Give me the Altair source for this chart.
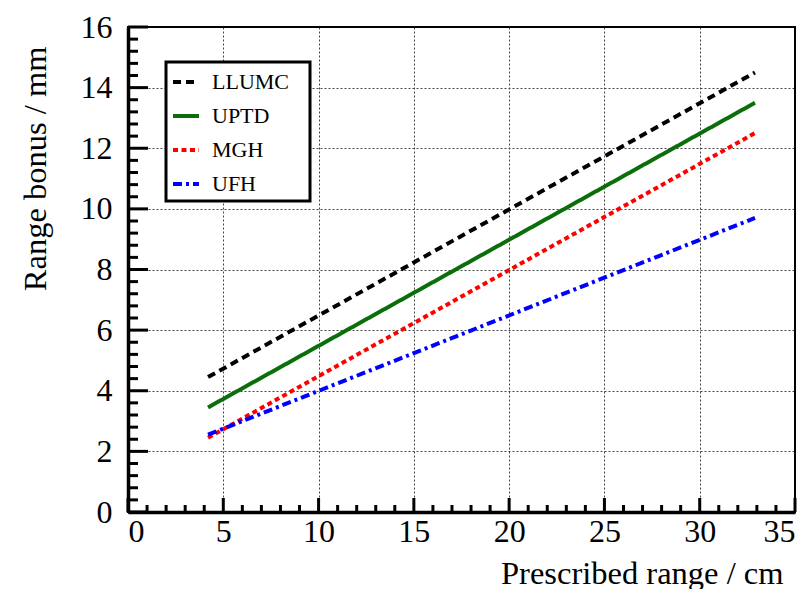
import altair as alt
import pandas as pd

# ---- data ----
sites = ["LLUMC", "UPTD", "MGH", "UFH"]
x_start = [4.2, 4.2, 4.2, 4.2]
x_end = [32.9, 32.9, 32.9, 32.9]
y_start = [4.45, 3.45, 2.45, 2.55]
y_end = [14.5, 13.5, 12.5, 9.7]

colors = ["#000000", "#0a6e0a", "#ff0000", "#0000ff"]
dashes = [[8, 5], [1, 0], [5, 3.5], [9, 4, 3, 4]]

x_major = [0, 5, 10, 15, 20, 25, 30, 35]
x_minor = [v for v in range(0, 36) if v % 5 != 0]
y_major = [0, 2, 4, 6, 8, 10, 12, 14, 16]
y_minor = [round(v * 0.4, 1) for v in range(0, 41) if v % 5 != 0]

W, H = 667, 485
FONT = "Liberation Serif"

rows = []
for s, xs, xe, ys, ye in zip(sites, x_start, x_end, y_start, y_end):
    rows.append({"site": s, "x": xs, "y": ys, "o": 0})
    rows.append({"site": s, "x": xe, "y": ye, "o": 1})
df = pd.DataFrame(rows)

xscale = alt.Scale(domain=[0, 35], nice=False, zero=False)
yscale = alt.Scale(domain=[0, 16], nice=False, zero=False)

xaxis = alt.Axis(title="Prescribed range / cm", values=x_major,
                 ticks=False, domainWidth=3.5, domainColor="black",
                 labelFont=FONT, labelFontSize=32, labelColor="black",
                 labelPadding=4, grid=True, gridDash=[2, 2],
                 gridColor="#444", gridWidth=1,
                 titleFont=FONT, titleFontSize=32.5, titleFontWeight="normal",
                 titleColor="black", titleAlign="right", titleAnchor="end",
                 titleX=655, titleY=71, titleBaseline="alphabetic")
yaxis = alt.Axis(title="Range bonus / mm", values=y_major,
                 ticks=False, domainWidth=3.5, domainColor="black",
                 labelFont=FONT, labelFontSize=32, labelColor="black",
                 labelPadding=16, grid=True, gridDash=[2, 2],
                 gridColor="#444", gridWidth=1,
                 titleFont=FONT, titleFontSize=32.5, titleFontWeight="normal",
                 titleColor="black", titleAngle=-90, titleAlign="right",
                 titleAnchor="end", titleX=-83, titleY=19,
                 titleBaseline="alphabetic")

leg = dict(
    title=None, orient="none", legendX=38, legendY=35,
    padding=5, rowPadding=8,
    symbolType="stroke", symbolSize=676, symbolStrokeWidth=4,
    labelFont=FONT, labelFontSize=22, labelColor="black", labelOffset=11,
)

# frame (top / right border of the plot box)
frame = alt.Chart(pd.DataFrame({"k": [0]})).mark_rect(
    fill=None, stroke="black", strokeWidth=2).encode(
    x=alt.value(0), x2=alt.value(W), y=alt.value(0), y2=alt.value(H))

# white box behind the legend entries
legend_box = alt.Chart(pd.DataFrame({"k": [0]})).mark_rect(
    fill="white", stroke="black", strokeWidth=3).encode(
    x=alt.value(38), x2=alt.value(182), y=alt.value(35), y2=alt.value(174))

lines = alt.Chart(df).mark_line(strokeWidth=4, strokeCap="butt").encode(
    x=alt.X("x:Q", scale=xscale, axis=xaxis),
    y=alt.Y("y:Q", scale=yscale, axis=yaxis),
    color=alt.Color("site:N", scale=alt.Scale(domain=sites, range=colors),
                    sort=sites, legend=alt.Legend(**leg)),
    strokeDash=alt.StrokeDash("site:N", scale=alt.Scale(domain=sites, range=dashes),
                              sort=sites, legend=alt.Legend(**leg)),
    order="o:Q",
)

xmaj = pd.DataFrame({"x": x_major})
xmin = pd.DataFrame({"x": x_minor})
ymaj = pd.DataFrame({"y": y_major})
ymin = pd.DataFrame({"y": y_minor})

tick_style = dict(color="black", strokeWidth=3)

xt_major = alt.Chart(xmaj).mark_rule(**tick_style).encode(
    x=alt.X("x:Q", scale=xscale, axis=xaxis), y=alt.value(H), y2=alt.value(H - 14))
xt_minor = alt.Chart(xmin).mark_rule(**tick_style).encode(
    x=alt.X("x:Q", scale=xscale, axis=xaxis), y=alt.value(H), y2=alt.value(H - 7))
yt_major = alt.Chart(ymaj).mark_rule(**tick_style).encode(
    y=alt.Y("y:Q", scale=yscale, axis=yaxis), x=alt.value(0), x2=alt.value(20))
yt_minor = alt.Chart(ymin).mark_rule(**tick_style).encode(
    y=alt.Y("y:Q", scale=yscale, axis=yaxis), x=alt.value(0), x2=alt.value(10))

chart = alt.layer(frame, legend_box, lines, xt_major, xt_minor, yt_major, yt_minor).properties(
    width=W, height=H,
    autosize=alt.AutoSizeParams(type="none"),
    padding={"left": 120, "top": 19, "right": 8, "bottom": 77},
).configure_view(stroke="black", strokeWidth=2)

chart.save("out.html", embed_options={"renderer": "svg", "actions": False})
